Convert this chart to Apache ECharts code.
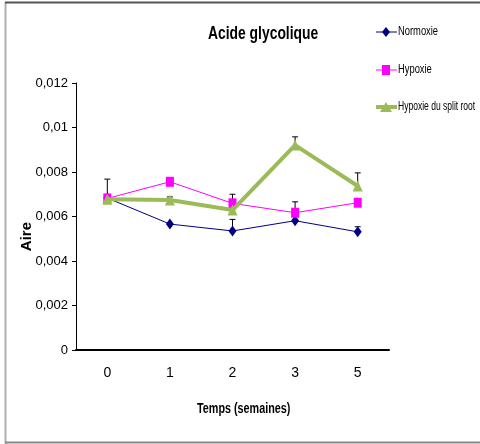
<!DOCTYPE html>
<html>
<head>
<meta charset="utf-8">
<script src="https://cdn.jsdelivr.net/npm/echarts@6/dist/echarts.min.js"></script>
<style>
html, body { margin: 0; padding: 0; background: #fff; }
#chart { width: 480px; height: 444px; }
</style>
</head>
<body>
<div id="chart"></div>
<script>
var categories = ['0', '1', '2', '3', '5'];
var seriesNames = ['Normoxie', 'Hypoxie', 'Hypoxie du split root'];
var normoxie = [0.00683, 0.00566, 0.00535, 0.00581, 0.00531];
var hypoxie = [0.00681, 0.00756, 0.00659, 0.00617, 0.00662];
var splitRoot = [0.00677, 0.00674, 0.00629, 0.00921, 0.00737];
// haut des barres d'erreur (null = pas visible)
var normoxieErr = [null, null, 0.00587, null, 0.00554];
var hypoxieErr = [0.00768, null, 0.0070, 0.00666, null];
var splitRootErr = [null, 0.00688, null, 0.00958, 0.00796];

var font = 'Arial, "Liberation Sans", sans-serif';
var colors = ['#000080', '#ff00ff', '#9bbb59'];

function errData(vals, tops) {
    var out = [];
    for (var i = 0; i < vals.length; i++) {
        if (tops[i] != null) out.push([i, vals[i], tops[i]]);
    }
    return out;
}

function errSeries(vals, tops) {
    return {
        type: 'custom',
        silent: true,
        z: 1,
        renderItem: function (params, api) {
            var p0 = api.coord([api.value(0), api.value(1)]);
            var p1 = api.coord([api.value(0), api.value(2)]);
            var s = { stroke: '#000', lineWidth: 1 };
            return {
                type: 'group',
                children: [
                    { type: 'line', shape: { x1: p0[0], y1: p0[1], x2: p1[0], y2: p1[1] }, style: s },
                    { type: 'line', shape: { x1: p1[0] - 3, y1: p1[1], x2: p1[0] + 3, y2: p1[1] }, style: s }
                ]
            };
        },
        data: errData(vals, tops)
    };
}

// texte étroit (police type Arial Narrow)
function narrowText(txt, x, y, size, bold, sx, align) {
    return {
        type: 'text',
        x: x,
        y: y,
        scaleX: sx,
        style: {
            text: txt, x: 0, y: 0, fontFamily: font, fontSize: size,
            fontWeight: bold ? 'bold' : 'normal', fill: '#000',
            align: align || 'left', verticalAlign: 'middle'
        }
    };
}

// légende à droite
var legendRows = [32, 70, 107];
var legendMarks = [
    { type: 'polygon', shape: { points: [[386, -5], [390, 0], [386, 5], [382, 0]] } },
    { type: 'rect', shape: { x: 382, y: -5, width: 8, height: 10 } },
    { type: 'polygon', shape: { points: [[386, -5], [392, 5], [380, 5]] } }
];
var legendGraphics = [];
seriesNames.forEach(function (name, i) {
    var y = legendRows[i];
    legendGraphics.push({
        type: 'group',
        y: y,
        children: [
            { type: 'line', shape: { x1: 376, y1: 0, x2: 397, y2: 0 }, style: { stroke: colors[i], lineWidth: i === 2 ? 4 : 1 } },
            Object.assign({ style: { fill: colors[i] } }, legendMarks[i])
        ]
    });
    legendGraphics.push(narrowText(name, 398, y, 12, false, i === 2 ? 0.71 : 0.78));
});

var myChart = echarts.init(document.getElementById('chart'));
var option = {
    backgroundColor: '#fff',
    animation: false,
    graphic: [
        { type: 'line', shape: { x1: 5.5, y1: 2, x2: 5.5, y2: 444 }, style: { stroke: '#b0b0b0', lineWidth: 2 } },
        { type: 'line', shape: { x1: 5, y1: 2.5, x2: 480, y2: 2.5 }, style: { stroke: '#555', lineWidth: 2 } },
        { type: 'line', shape: { x1: 5, y1: 442.5, x2: 480, y2: 442.5 }, style: { stroke: '#888', lineWidth: 2 } },
        narrowText('Acide glycolique', 208, 34, 19, true, 0.73),
        narrowText('Temps (semaines)', 197, 409, 15, true, 0.72),
        {
            type: 'text',
            left: 19,
            top: 222,
            rotation: Math.PI / 2,
            style: { text: 'Aire', fontFamily: font, fontSize: 15, fontWeight: 'bold', fill: '#000' }
        }
    ].concat(legendGraphics),
    grid: { left: 76, right: 91, top: 83, bottom: 94 },
    xAxis: {
        type: 'category',
        data: categories,
        axisLine: { lineStyle: { color: '#000', width: 2 } },
        axisTick: { length: 4, lineStyle: { color: '#666' } },
        axisLabel: { fontFamily: font, fontSize: 14, color: '#000', margin: 16 }
    },
    yAxis: {
        type: 'value',
        min: 0,
        max: 0.012,
        interval: 0.002,
        splitLine: { show: false },
        axisLine: { show: true, lineStyle: { color: '#000', width: 1 } },
        axisTick: { show: true, length: 4, lineStyle: { color: '#000' } },
        axisLabel: {
            fontFamily: font, fontSize: 13, color: '#000', margin: 8,
            formatter: function (v) { return String(+v.toFixed(3)).replace('.', ','); }
        }
    },
    series: [
        errSeries(normoxie, normoxieErr),
        errSeries(hypoxie, hypoxieErr),
        errSeries(splitRoot, splitRootErr),
        {
            name: seriesNames[0],
            type: 'line',
            data: normoxie,
            symbol: 'diamond',
            symbolSize: [8, 11],
            z: 3,
            lineStyle: { color: colors[0], width: 1 },
            itemStyle: { color: colors[0] }
        },
        {
            name: seriesNames[1],
            type: 'line',
            data: hypoxie,
            symbol: 'rect',
            symbolSize: [8, 10],
            z: 4,
            lineStyle: { color: colors[1], width: 1 },
            itemStyle: { color: colors[1] }
        },
        {
            name: seriesNames[2],
            type: 'line',
            data: splitRoot,
            symbol: 'triangle',
            symbolSize: [10, 11],
            z: 5,
            lineStyle: { color: colors[2], width: 4 },
            itemStyle: { color: colors[2] }
        }
    ]
};
myChart.setOption(option);
</script>
</body>
</html>
